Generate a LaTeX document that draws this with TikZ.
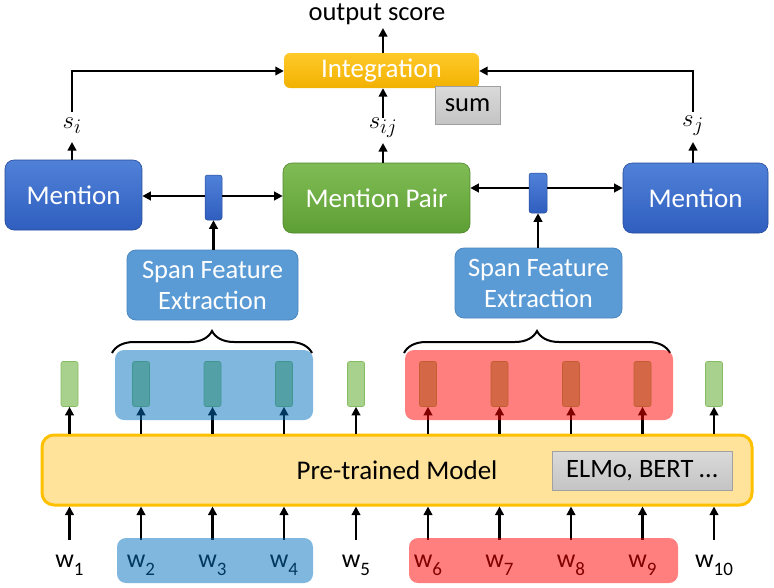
\documentclass[tikz,border=0pt]{standalone}
\usepackage{fontspec}
\setmainfont{Carlito}
\usetikzlibrary{arrows.meta,decorations.pathreplacing,calc}
\definecolor{mblueT}{HTML}{5081D8}
\definecolor{mblueB}{HTML}{2F5EBF}
\definecolor{mgreenT}{HTML}{80BC55}
\definecolor{mgreenB}{HTML}{5E9F35}
\definecolor{intT}{HTML}{FFC92A}
\definecolor{intB}{HTML}{F2B100}
\definecolor{spanC}{HTML}{5B9BD5}
\definecolor{spanD}{HTML}{4A86C0}
\definecolor{grayT}{HTML}{DADADA}
\definecolor{grayB}{HTML}{C4C4C4}
\definecolor{grayD}{HTML}{A0A0A0}
\definecolor{vecF}{HTML}{A9D18E}
\definecolor{vecD}{HTML}{86BD63}
\definecolor{modelF}{HTML}{FFE39A}
\definecolor{modelD}{HTML}{FFC000}
\definecolor{ovBlue}{HTML}{0070C0}
\definecolor{ovRed}{HTML}{FF0000}
\begin{document}
\begin{tikzpicture}[x=1pt,y=-1pt,
  arr/.style={line width=2.7pt,-{Triangle[length=8.5pt,width=8.5pt]}},
  plain/.style={line width=2.7pt},
  wbox/.style={rounded corners=9pt,inner sep=0pt,text=white,font=\fontsize{27}{32}\selectfont},
  mentionbox/.style={wbox,top color=mblueT,bottom color=mblueB,draw=mblueB!80!black,line width=0.6pt},
  pairbox/.style={wbox,top color=mgreenT,bottom color=mgreenB,draw=mgreenB!85!black,line width=0.6pt},
  spanbox/.style={wbox,fill=spanC,draw=spanD,line width=0.8pt,align=center,font=\fontsize{26.5}{31}\selectfont},
  smallbar/.style={rounded corners=2.5pt,inner sep=0pt,top color=mblueT,bottom color=mblueB,draw=mblueB!80!black,line width=0.5pt},
  graybox/.style={inner sep=0pt,top color=grayT,bottom color=grayB,draw=grayD,line width=0.8pt,font=\fontsize{26.5}{30}\selectfont},
  vec/.style={rounded corners=2pt,inner sep=0pt,minimum width=17pt,minimum height=45pt,fill=vecF,draw=vecD,line width=0.6pt},
  wlab/.style={inner sep=0pt,font=\fontsize{26}{28}\selectfont},
  slab/.style={inner sep=0pt,font=\fontsize{28}{30}\selectfont},
  overlay/.style={rounded corners=9pt,fill opacity=0.5},
  bracestyle/.style={line width=2pt,decorate,decoration={brace,amplitude=22pt,aspect=0.5}}
]
\useasboundingbox (0,0) rectangle (774,587);

% top part
\node[inner sep=0pt,font=\fontsize{26.5}{30}\selectfont] (out) at (377,14) {output score};
\node[wbox,top color=intT,bottom color=intB,minimum width=195pt,minimum height=35pt,rounded corners=6pt] (integ) at (381.5,70.5) {Integration};
\node[graybox,minimum width=65pt,minimum height=38pt] (sum) at (467.5,105) {sum};

\node[slab] (si) at (72,126) {$s_i$};
\node[slab] (sij) at (383,128) {$s_{ij}$};
\node[slab] (sj) at (693,126) {$s_j$};

\node[mentionbox,minimum width=137pt,minimum height=70pt] (ml) at (73.5,195) {Mention};
\node[pairbox,minimum width=187pt,minimum height=70pt] (mp) at (376.5,198) {Mention Pair};
\node[mentionbox,minimum width=145pt,minimum height=70pt] (mr) at (695.5,198) {Mention};

\node[smallbar,minimum width=17pt,minimum height=45pt] (bl) at (213.5,197.5) {};
\node[smallbar,minimum width=18pt,minimum height=40pt] (br) at (538,193) {};

\node[spanbox,minimum width=171pt,minimum height=70pt] (spl) at (212.5,285) {Span Feature\\Extraction};
\node[spanbox,minimum width=167pt,minimum height=70pt] (spr) at (538.5,283) {Span Feature\\Extraction};

% coordinates for connector ends
\coordinate (cl) at (72,71);
\coordinate (cr) at (693,71);
\coordinate (sib) at (72,142);
\coordinate (sit) at (72,111);
\coordinate (sjb) at (693,142);
\coordinate (sjt) at (693,111);
\coordinate (sijb) at (383,143);
\coordinate (sijt) at (383,118);
\coordinate (outb) at (383,28);

% connectors top
\draw[arr] (integ.north -| outb) -- (outb);
\draw[plain,line cap=rect] (sit) -- (cl);
\draw[arr] (cl) -- (integ.west |- cl);
\draw[plain,line cap=rect] (sjt) -- (cr);
\draw[arr] (cr) -- (integ.east |- cr);
\draw[arr] (sijt) -- (integ.south -| sijt);
\draw[arr] (ml.north -| sib) -- (sib);
\draw[arr] (mp.north -| sijb) -- (sijb);
\draw[arr] (mr.north -| sjb) -- (sjb);

\draw[arr] (bl.west |- 0,196) -- (ml.east |- 0,196);
\draw[arr] (bl.east |- 0,196) -- (mp.west |- 0,196);
\draw[arr] (br.west |- 0,188) -- (mp.east |- 0,188);
\draw[arr] (br.east |- 0,188) -- (mr.west |- 0,188);

\draw[arr] (spl.north -| bl) -- (bl.south);
\draw[arr] (spr.north -| br) -- (br.south);

% braces
\draw[bracestyle] (112,353) -- (312,353);
\draw[bracestyle] (404,353) -- (670,353);

% model
\node[rounded corners=12pt,fill=modelF,draw=modelD,line width=3pt,minimum width=710pt,minimum height=70pt,inner sep=0pt,font=\fontsize{27}{32}\selectfont] (model) at (397,470) {Pre-trained Model};
\node[graybox,minimum width=180pt,minimum height=39pt] (elmo) at (642,470.5) {ELMo, BERT …};

% vectors, inputs
\foreach \i/\x in {1/69.5,2/141,3/212.5,4/284,5/356,6/428,7/499.5,8/571,9/642.5,10/714}{
  \node[vec] (v\i) at (\x,384) {};
  \draw[arr] (model.north -| v\i) -- (v\i.south);
  \node[wlab] (w\i) at (\x,565) {w\raisebox{-0.3em}{\fontsize{19}{19}\selectfont\i}};
  \coordinate (in\i) at (\x,540);
  \draw[arr] (in\i) -- (model.south -| in\i);
}

% highlight overlays
\fill[overlay,fill=ovBlue] (115,350) rectangle (313,420);
\fill[overlay,fill=ovRed] (405,350) rectangle (673,420);
\fill[overlay,fill=ovBlue] (117,538) rectangle (313,583);
\fill[overlay,fill=ovRed] (409,538) rectangle (678,583);
\end{tikzpicture}
\end{document}
